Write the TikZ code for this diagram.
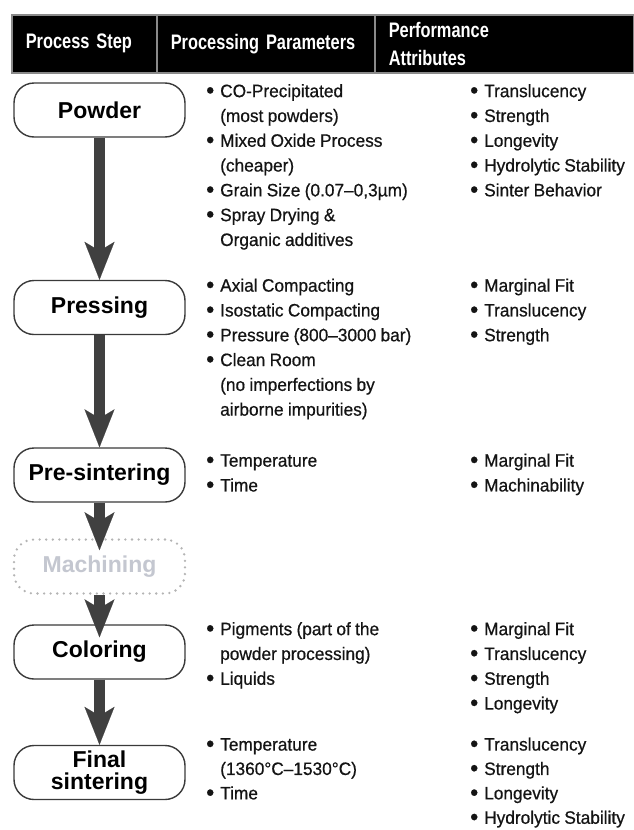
\documentclass[tikz,border=0pt]{standalone}
\usepackage{fontspec}
\setmainfont{Liberation Sans}
\newfontfamily\bodyfont[FakeStretch=0.96, FakeBold=0.6, WordSpace=0.9]{Liberation Sans}
\newfontfamily\headfont[FakeStretch=0.78, WordSpace=0.7]{Liberation Sans}
\usetikzlibrary{arrows.meta,positioning}

\definecolor{arrowgray}{HTML}{404040}
\definecolor{framegray}{HTML}{3A3A3A}
\definecolor{dotgray}{HTML}{B4B4B4}
\definecolor{ghosttext}{HTML}{C4C7D0}
\definecolor{rulegray}{HTML}{8A8A8A}

\newcommand{\bul}{\strut\makebox[14pt][l]{\raisebox{-1.2pt}{\fontsize{24}{24}\selectfont\textbullet}}}
\newcommand{\cont}{\strut\hspace*{14pt}}

\tikzset{
  stepbox/.style={draw=framegray, line width=1.4pt, fill=white, rounded corners=20pt,
    minimum width=171pt, minimum height=54pt, inner sep=0pt, align=center,
    font=\bfseries\fontsize{23}{22}\selectfont},
  ghostbox/.style={stepbox, draw=dotgray, line width=2.6pt, dash pattern=on 0pt off 6.6pt,
    line cap=round, text=ghosttext},
  flow/.style={draw=arrowgray, line width=11pt,
    -{Stealth[length=38pt, width=30pt, inset=9pt, line width=0.1pt]}},
  itemlist/.style={anchor=north west, inner sep=0pt, align=left, text=black!92,
    font=\bodyfont\fontsize{18}{24.8}\selectfont},
  tightlist/.style={itemlist, font=\bodyfont\fontsize{18}{24.4}\selectfont},
  headcell/.style={anchor=north west, fill=black, draw=rulegray, line width=1.5pt,
    minimum height=58pt, inner xsep=14pt, inner ysep=0pt, align=left, text=white,
    font=\headfont\bfseries\fontsize{21}{28}\selectfont},
}

\begin{document}
\begin{tikzpicture}[x=1pt, y=-1pt]
  \useasboundingbox (0,0) rectangle (633,830);

  % Header row
  \node[headcell, minimum width=145pt, text width=117pt] (h-step) at (11,14) {Process Step};
  \node[headcell, minimum width=218pt, text width=190pt] (h-param) at (156,14) {Processing Parameters};
  \node[headcell, minimum width=259pt, text width=231pt] (h-attr) at (374,14) {Performance\\Attributes};

  % Process steps
  \node[stepbox] (powder) at (99.5,110) {Powder};
  \node[stepbox] (pressing) at (99.5,307.5) {Pressing};
  \node[stepbox] (presinter) at (99.5,475) {Pre-sintering};
  \node[ghostbox] (machining) at (99.5,566.5) {Machining};
  \node[stepbox] (coloring) at (99.5,652) {Coloring};
  \node[stepbox] (final) at (99.5,772.5) {Final\\sintering};

  % Flow arrows
  \draw[flow] (powder) -- (pressing);
  \draw[flow] (pressing) -- (presinter);
  \draw[flow, shorten >=-12pt] (presinter) -- (machining);
  \draw[flow, shorten >=-13pt] (machining) -- (coloring);
  \draw[flow] (coloring) -- (final);

  % Processing parameters
  \node[itemlist] (powder-par) at (206,79.6)
    {\bul CO-Precipitated\\\cont(most powders)\\\bul Mixed Oxide Process\\\cont(cheaper)\\
     \bul Grain Size (0.07–0,3µm)\\\bul Spray Drying \&\\\cont Organic additives};
  \node[itemlist] (pressing-par) at (206,274.1)
    {\bul Axial Compacting\\\bul Isostatic Compacting\\\bul Pressure (800–3000 bar)\\
     \bul Clean Room\\\cont(no imperfections by\\\cont airborne impurities)};
  \node[itemlist] (presinter-par) at (206,449.1)
    {\bul Temperature\\\bul Time};
  \node[itemlist] (coloring-par) at (206,617.6)
    {\bul Pigments (part of the\\\cont powder processing)\\\bul Liquids};
  \node[tightlist] (final-par) at (206,733.3)
    {\bul Temperature\\\cont(1360°C–1530°C)\\\bul Time};

  % Performance attributes
  \node[itemlist] (powder-att) at (470,79.6)
    {\bul Translucency\\\bul Strength\\\bul Longevity\\\bul Hydrolytic Stability\\\bul Sinter Behavior};
  \node[itemlist] (pressing-att) at (470,274.1)
    {\bul Marginal Fit\\\bul Translucency\\\bul Strength};
  \node[itemlist] (presinter-att) at (470,449.1)
    {\bul Marginal Fit\\\bul Machinability};
  \node[itemlist] (coloring-att) at (470,617.6)
    {\bul Marginal Fit\\\bul Translucency\\\bul Strength\\\bul Longevity};
  \node[tightlist] (final-att) at (470,733.3)
    {\bul Translucency\\\bul Strength\\\bul Longevity\\\bul Hydrolytic Stability};
\end{tikzpicture}
\end{document}
